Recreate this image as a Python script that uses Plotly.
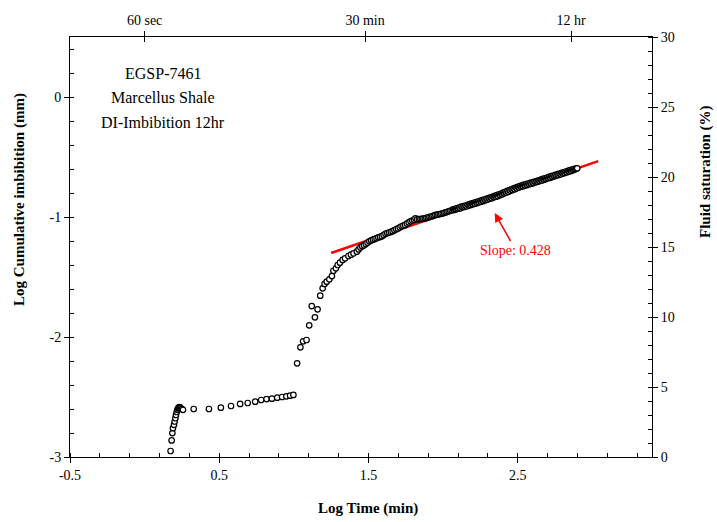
import numpy as np
import plotly.graph_objects as go

# ---- measured imbibition curve: log10(time, min) vs log10(cumulative imbibition, mm) ----
# initial contact / wetting rise
log_t_start = [0.174, 0.181, 0.186, 0.190, 0.197, 0.201, 0.206, 0.210, 0.215, 0.219,
               0.224, 0.229, 0.233, 0.236, 0.240, 0.244, 0.250, 0.257]
log_imb_start = [-2.950, -2.862, -2.801, -2.760, -2.732, -2.704, -2.677, -2.650, -2.625, -2.607,
                 -2.595, -2.588, -2.585, -2.587, -2.590, -2.596, -2.600, -2.607]

# slow early plateau
log_t_plateau = [0.329, 0.431, 0.511, 0.579, 0.640, 0.691, 0.741, 0.781, 0.817, 0.853,
                 0.889, 0.921, 0.950, 0.975, 0.997]
log_imb_plateau = [-2.600, -2.600, -2.589, -2.575, -2.558, -2.550, -2.539, -2.525, -2.517, -2.514,
                   -2.506, -2.500, -2.494, -2.489, -2.483]

# rapid uptake
log_t_rise = [1.022, 1.044, 1.062, 1.085, 1.103, 1.120, 1.141, 1.159, 1.177, 1.193,
              1.206, 1.220, 1.238, 1.255, 1.265, 1.282, 1.294, 1.309, 1.327, 1.343,
              1.366, 1.383, 1.400, 1.422]
log_imb_rise = [-2.219, -2.086, -2.036, -2.025, -1.903, -1.742, -1.836, -1.769, -1.656, -1.594,
                -1.558, -1.539, -1.519, -1.492, -1.448, -1.428, -1.400, -1.381, -1.358, -1.344,
                -1.325, -1.314, -1.303, -1.289]

# transition toward the linear (log-log) regime
log_t_mid = [1.434, 1.446, 1.458, 1.470, 1.482, 1.494, 1.506, 1.518, 1.530, 1.542,
             1.554, 1.566, 1.578, 1.590, 1.602, 1.614, 1.626, 1.638, 1.650, 1.662,
             1.674, 1.686, 1.698, 1.710, 1.722, 1.734, 1.746, 1.758, 1.770, 1.782,
             1.794, 1.806, 1.815, 1.826, 1.838, 1.848, 1.858, 1.868, 1.878, 1.888,
             1.898, 1.908, 1.918, 1.928, 1.938, 1.948, 1.958, 1.968, 1.978, 1.988,
             1.998, 2.008, 2.018, 2.028, 2.038, 2.048, 2.058]
log_imb_mid = [-1.270, -1.255, -1.243, -1.236, -1.226, -1.214, -1.203, -1.195, -1.189, -1.183,
               -1.177, -1.170, -1.166, -1.160, -1.150, -1.140, -1.134, -1.129, -1.124, -1.118,
               -1.110, -1.102, -1.095, -1.086, -1.077, -1.072, -1.066, -1.055, -1.045, -1.036,
               -1.030, -1.022, -1.011, -1.020, -1.018, -1.017, -1.015, -1.013, -1.011, -1.008,
               -1.004, -1.000, -0.996, -0.992, -0.988, -0.984, -0.981, -0.978, -0.976, -0.973,
               -0.969, -0.965, -0.961, -0.957, -0.952, -0.948, -0.944]

# late-time dense record
log_t_late = [2.067, 2.074, 2.081, 2.088, 2.095, 2.102, 2.109, 2.116, 2.123, 2.130,
              2.137, 2.144, 2.151, 2.158, 2.165, 2.172, 2.179, 2.186, 2.193, 2.200,
              2.207, 2.214, 2.221, 2.228, 2.235, 2.242, 2.249, 2.256, 2.263, 2.270,
              2.277, 2.284, 2.291, 2.298, 2.305, 2.312, 2.319, 2.326, 2.333, 2.340,
              2.347, 2.354, 2.361, 2.368, 2.375, 2.382, 2.389, 2.396, 2.403, 2.410,
              2.417, 2.424, 2.431, 2.438, 2.445, 2.452, 2.459, 2.466, 2.473, 2.480,
              2.487, 2.494, 2.501, 2.508, 2.515, 2.522, 2.529, 2.536, 2.543, 2.550,
              2.557, 2.564, 2.571, 2.578, 2.585, 2.592, 2.599, 2.606, 2.613, 2.620,
              2.627, 2.634, 2.641, 2.648, 2.655, 2.662, 2.669, 2.676, 2.683, 2.690,
              2.697, 2.704, 2.711, 2.718, 2.725, 2.732, 2.739, 2.746, 2.753, 2.760,
              2.767, 2.774, 2.781, 2.788, 2.795, 2.802, 2.809, 2.816, 2.823, 2.830,
              2.837, 2.844, 2.851, 2.858, 2.865, 2.872, 2.879, 2.886, 2.893, 2.899]
log_imb_late = [-0.936, -0.941, -0.933, -0.935, -0.925, -0.931, -0.921, -0.927, -0.914, -0.919,
                -0.909, -0.915, -0.904, -0.911, -0.898, -0.905, -0.893, -0.899, -0.887, -0.893,
                -0.882, -0.889, -0.876, -0.883, -0.871, -0.877, -0.865, -0.872, -0.860, -0.866,
                -0.854, -0.860, -0.848, -0.854, -0.842, -0.848, -0.836, -0.843, -0.830, -0.836,
                -0.824, -0.831, -0.818, -0.826, -0.811, -0.817, -0.804, -0.811, -0.797, -0.803,
                -0.790, -0.796, -0.783, -0.790, -0.776, -0.782, -0.769, -0.775, -0.762, -0.768,
                -0.755, -0.761, -0.748, -0.754, -0.742, -0.748, -0.737, -0.743, -0.731, -0.738,
                -0.726, -0.733, -0.721, -0.727, -0.716, -0.722, -0.711, -0.717, -0.705, -0.711,
                -0.700, -0.706, -0.694, -0.700, -0.688, -0.695, -0.683, -0.689, -0.677, -0.683,
                -0.671, -0.677, -0.666, -0.672, -0.660, -0.666, -0.654, -0.661, -0.649, -0.655,
                -0.643, -0.649, -0.638, -0.644, -0.632, -0.638, -0.627, -0.633, -0.621, -0.627,
                -0.615, -0.621, -0.610, -0.616, -0.604, -0.609, -0.599, -0.603, -0.596, -0.594]

# linear fit of the late-time regime
fit_slope = 0.428
fit_intercept = -1.835
fit_x = [1.25, 3.04]

# axis ticks
x_ticks = [-0.5, 0.5, 1.5, 2.5]
x_tick_text = ["-0.5", "0.5", "1.5", "2.5"]
y_ticks = [-3, -2, -1, 0]
y_tick_text = ["-3", "-2", "-1", "0"]
sat_ticks = [0, 5, 10, 15, 20, 25, 30]

# reference times shown on the top axis (minutes)
top_minutes = [1, 30, 720]
top_labels = ["60 sec", "30 min", "12 hr"]

sample_text = ["EGSP-7461", "Marcellus Shale", "DI-Imbibition 12hr"]

FONT = "Liberation Serif, Times New Roman, serif"

log_t = log_t_start + log_t_plateau + log_t_rise + log_t_mid + log_t_late
log_imb = log_imb_start + log_imb_plateau + log_imb_rise + log_imb_mid + log_imb_late
fit_y = [fit_intercept + fit_slope * v for v in fit_x]
top_vals = [float(np.log10(m)) for m in top_minutes]

fig = go.Figure()

fig.add_trace(go.Scatter(
    x=fit_x, y=fit_y, mode="lines",
    line=dict(color="#ff0000", width=2.5),
    hoverinfo="skip", showlegend=False,
))

fig.add_trace(go.Scatter(
    x=log_t, y=log_imb, mode="markers",
    marker=dict(symbol="circle", size=5.5, color="white",
                line=dict(color="black", width=1.2)),
    showlegend=False,
))

# carrier traces for the secondary (top / right) axes
for xa in ("x2", "x3"):
    fig.add_trace(go.Scatter(
        x=[None], y=[None], xaxis=xa, yaxis="y2",
        mode="markers", showlegend=False, hoverinfo="skip",
    ))

tick_font = dict(family=FONT, size=14, color="black")

fig.update_layout(
    width=717, height=522,
    margin=dict(l=70, r=65, t=37, b=65),
    paper_bgcolor="white", plot_bgcolor="white",
    font=dict(family=FONT, size=14, color="black"),
    xaxis=dict(
        range=[-0.5, 3.4], tickmode="array", tickvals=x_ticks, ticktext=x_tick_text,
        showgrid=False, zeroline=False,
        showline=True, linecolor="black", linewidth=1,
        ticks="outside", ticklen=5, tickcolor="black",
        tickfont=tick_font,
        minor=dict(tick0=-0.5, dtick=0.2, ticks="inside", ticklen=4,
                   tickcolor="black", showgrid=False),
    ),
    yaxis=dict(
        range=[-3, 0.5], tickmode="array", tickvals=y_ticks, ticktext=y_tick_text,
        showgrid=False, zeroline=False,
        showline=True, linecolor="black", linewidth=1,
        ticks="outside", ticklen=5, tickcolor="black",
        tickfont=tick_font,
        minor=dict(tick0=-3, dtick=0.2, ticks="inside", ticklen=4,
                   tickcolor="black", showgrid=False),
    ),
    xaxis2=dict(
        overlaying="x", side="top", anchor="y2",
        range=[-0.5, 3.4],
        tickmode="array", tickvals=top_vals, ticktext=top_labels,
        showgrid=False, zeroline=False,
        showline=True, linecolor="black", linewidth=1,
        ticks="outside", ticklen=5, tickcolor="black",
        tickfont=tick_font,
    ),
    # inner halves of the top-axis ticks
    xaxis3=dict(
        overlaying="x", side="top", anchor="y2",
        range=[-0.5, 3.4],
        tickmode="array", tickvals=top_vals,
        showticklabels=False, showgrid=False, zeroline=False, showline=False,
        ticks="inside", ticklen=5, tickcolor="black",
    ),
    yaxis2=dict(
        overlaying="y", side="right", anchor="x2",
        range=[0, 30], tickmode="array", tickvals=sat_ticks,
        showgrid=False, zeroline=False,
        showline=True, linecolor="black", linewidth=1,
        ticks="outside", ticklen=5, tickcolor="black",
        tickfont=tick_font,
        minor=dict(tick0=0, dtick=1, ticks="inside", ticklen=4,
                   tickcolor="black", showgrid=False),
    ),
)

annotations = [
    dict(text="<b>Log Time (min)</b>", xref="paper", yref="paper",
         x=0.512, y=0, yanchor="middle", yshift=-51, showarrow=False,
         font=dict(family=FONT, size=15)),
    dict(text="<b>Log Cumulative imbibition (mm)</b>", xref="paper", yref="paper",
         x=0, xshift=-50, y=(457 - 200) / 420, textangle=-90,
         xanchor="center", yanchor="middle", showarrow=False,
         font=dict(family=FONT, size=15)),
    dict(text="<b>Fluid saturation (%)</b>", xref="paper", yref="paper",
         x=1, xshift=53, y=(457 - 172) / 420, textangle=-90,
         xanchor="center", yanchor="middle", showarrow=False,
         font=dict(family=FONT, size=15)),
    dict(text="Slope: 0.428", x=2.346, y=-0.967, xref="x", yref="y",
         showarrow=True, arrowhead=2, arrowsize=1.2, arrowwidth=1.5,
         arrowcolor="#ff0000", ax=21, ay=37,
         font=dict(family=FONT, size=14, color="#ff0000")),
]
for i, line in enumerate(sample_text):
    annotations.append(dict(
        text=line, xref="x", yref="y", x=0.12, y=0.2 - 0.205 * i,
        showarrow=False, font=dict(family=FONT, size=16),
    ))
fig.update_layout(annotations=annotations)

fig.write_html("out.html")
